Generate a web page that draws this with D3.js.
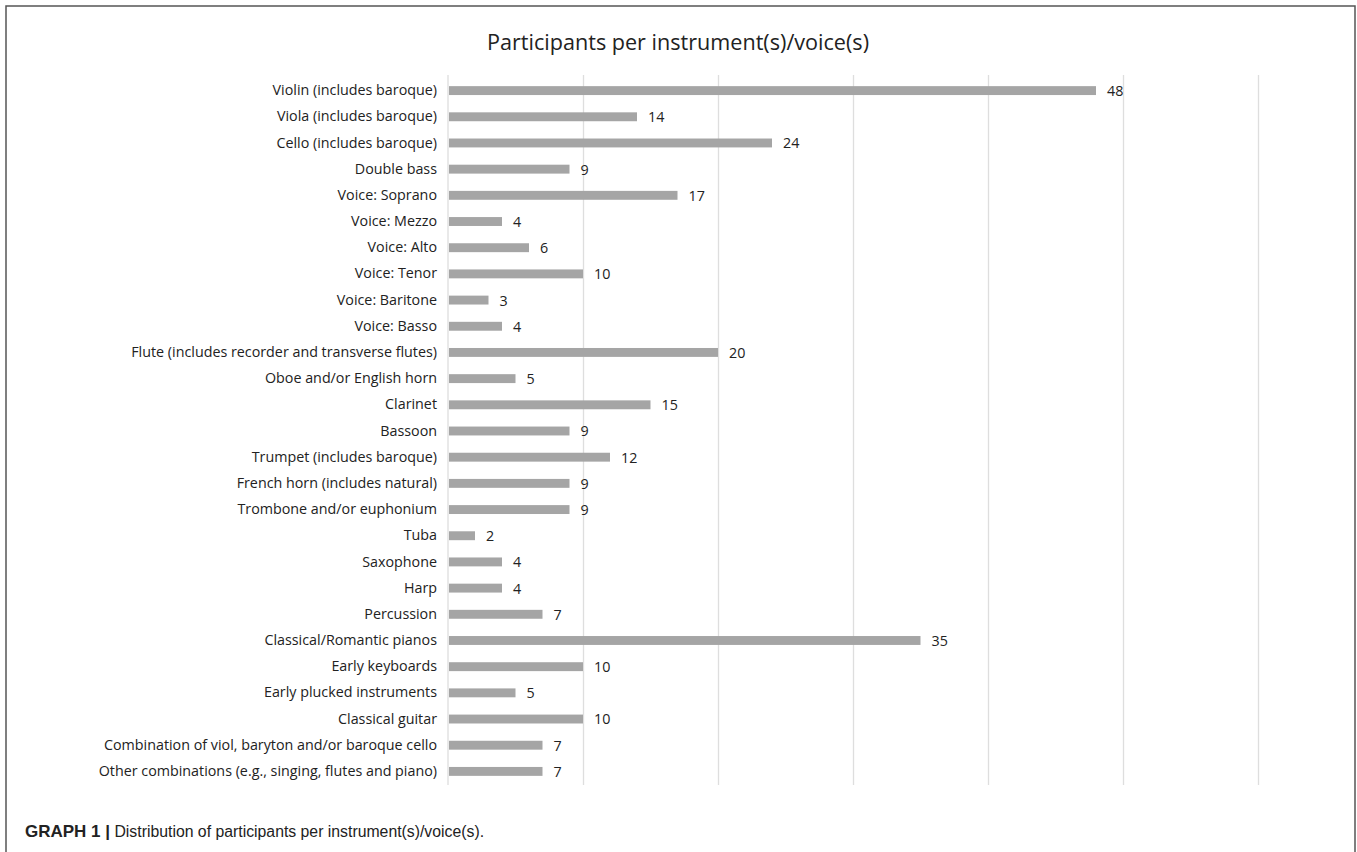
<!DOCTYPE html>
<html>
<head>
<meta charset="utf-8">
<script src="https://cdn.jsdelivr.net/npm/d3@7"></script>
<style>
  html, body { margin: 0; padding: 0; background: #fff; }
  svg { display: block; }
</style>
</head>
<body>
<svg id="chart" width="1357" height="852"></svg>
<script>
const categories = [
  "Violin (includes baroque)",
  "Viola (includes baroque)",
  "Cello (includes baroque)",
  "Double bass",
  "Voice: Soprano",
  "Voice: Mezzo",
  "Voice: Alto",
  "Voice: Tenor",
  "Voice: Baritone",
  "Voice: Basso",
  "Flute (includes recorder and transverse flutes)",
  "Oboe and/or English horn",
  "Clarinet",
  "Bassoon",
  "Trumpet (includes baroque)",
  "French horn (includes natural)",
  "Trombone and/or euphonium",
  "Tuba",
  "Saxophone",
  "Harp",
  "Percussion",
  "Classical/Romantic pianos",
  "Early keyboards",
  "Early plucked instruments",
  "Classical guitar",
  "Combination of viol, baryton and/or baroque cello",
  "Other combinations (e.g., singing, flutes and piano)"
];
const participants = [48, 14, 24, 9, 17, 4, 6, 10, 3, 4, 20, 5, 15, 9, 12, 9, 9, 2, 4, 4, 7, 35, 10, 5, 10, 7, 7];
const gridTicks = [10, 20, 30, 40, 50, 60];
const chartTitle = "Participants per instrument(s)/voice(s)";
const captionBold = "GRAPH 1 |";
const captionText = " Distribution of participants per instrument(s)/voice(s).";

const data = categories.map((c, i) => ({ name: c, value: participants[i] }));
const svg = d3.select("#chart");
const labelFont = "'Open Sans', 'Noto Sans', sans-serif";

// frame around the figure
svg.append("path")
  .attr("d", "M6,852 V6 H1355 V852")
  .attr("fill", "none")
  .attr("stroke", "#555")
  .attr("stroke-width", 1.5);

const x = d3.scaleLinear().domain([0, 60]).range([448, 1258]);
const y = d3.scaleBand().domain(categories).range([77.5, 784.5]).paddingInner(0.66).paddingOuter(0.33);

// title
svg.append("text")
  .attr("x", 678).attr("y", 50)
  .attr("text-anchor", "middle")
  .attr("font-family", labelFont)
  .attr("font-size", 21.6)
  .attr("fill", "#222")
  .text(chartTitle);

// vertical gridlines
const gridAxis = d3.axisBottom(x).tickValues(gridTicks).tickSize(-(785 - 75)).tickFormat("");
svg.append("g")
  .attr("transform", "translate(0,785)")
  .call(gridAxis)
  .call(g => g.select(".domain").remove())
  .call(g => g.selectAll(".tick line").attr("stroke", "#dedede").attr("stroke-width", 1.3));

// category axis
const yAxis = d3.axisLeft(y).tickSize(0).tickPadding(11);
svg.append("g")
  .attr("transform", "translate(448,0)")
  .call(yAxis)
  .call(g => g.select(".domain").attr("d", "M0,75V785").attr("stroke", "#dedede").attr("stroke-width", 1.3))
  .call(g => g.selectAll(".tick text")
    .attr("font-family", labelFont)
    .attr("font-size", 14.3)
    .attr("fill", "#222"));

// bars
svg.append("g").selectAll("rect")
  .data(data)
  .join("rect")
  .attr("x", x(0) + 1)
  .attr("y", d => y(d.name))
  .attr("width", d => x(d.value) - x(0) - 1)
  .attr("height", y.bandwidth())
  .attr("fill", "#a5a5a5");

// value labels
svg.append("g").selectAll("text")
  .data(data)
  .join("text")
  .attr("x", d => x(d.value) + 11)
  .attr("y", d => y(d.name) + y.bandwidth() / 2)
  .attr("dy", "0.38em")
  .attr("font-family", labelFont)
  .attr("font-size", 14.3)
  .attr("fill", "#222")
  .text(d => d.value);

// caption
const cap = svg.append("text")
  .attr("x", 25).attr("y", 837)
  .attr("font-family", "'Liberation Sans', Arial, sans-serif")
  .attr("font-size", 15.8)
  .attr("fill", "#222");
cap.append("tspan").attr("font-weight", "bold").attr("font-size", 17).text(captionBold);
cap.append("tspan").text(captionText);
</script>
</body>
</html>
